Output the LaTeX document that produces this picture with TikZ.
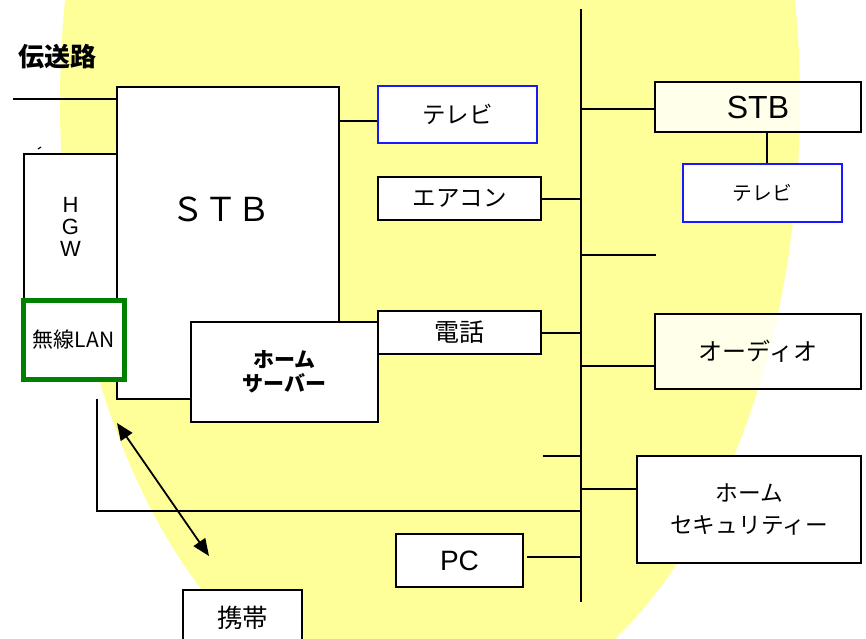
\documentclass[tikz,border=0pt]{standalone}
\usepackage{fontspec}
\setmainfont{Liberation Sans}
\newfontfamily\jp{Noto Sans CJK JP}
\usetikzlibrary{arrows.meta}
\definecolor{bgyellow}{RGB}{255,255,153}
\definecolor{wgreen}{RGB}{0,128,0}
\definecolor{tvblue}{RGB}{25,25,255}
\newcommand{\fs}[2]{\fontsize{#1}{#2}\selectfont}
\begin{document}
\begin{tikzpicture}[x=1pt,y=-1pt,
  box/.style={draw=black, line width=1.8pt, fill=white, inner sep=0pt, rectangle, align=center, font=\jp\fs{23.5}{27}},
  tvbox/.style={box, draw=tvblue},
  glassbox/.style={box, fill opacity=0.8, text opacity=1},
  ln/.style={line width=1.8pt},
  lbl/.style={inner sep=0pt, align=center}]
\clip (0,0) rectangle (866,638);
\fill[bgyellow] (430,102) ellipse [x radius=370pt, y radius=620pt];

% left side
\node[lbl, font=\jp\bfseries\fs{26}{28}] (title) at (57,57) {伝送路};
\node[box, minimum width=222pt, minimum height=312pt] (stbbig) at (228,243) {};
\node[lbl, font=\jp\fs{33}{36}] (stbbiglbl) at (221,209) {ＳＴＢ};
\node[box, minimum width=93pt, minimum height=146pt, font=\fs{22}{22}] (hgw) at (70.5,227) {H\\G\\W};
\node[box, draw=wgreen, line width=5pt, minimum width=101pt, minimum height=79pt, font=\jp\fs{21}{24}] (wlan) at (73.5,339.5) {無線LAN};
\node[box, minimum width=187pt, minimum height=100pt, font=\jp\bfseries\fs{21}{24}] (hs) at (284.5,372) {\raisebox{-2pt}{ホーム}\\\raisebox{-2pt}{サーバー}};
\draw[line width=1.2pt] (38,149) -- (41,147);

% middle column
\node[tvbox, minimum width=159pt, minimum height=57pt] (tv1) at (457.5,114.5) {テレビ};
\node[box, minimum width=163pt, minimum height=43pt] (ac) at (459.5,198.5) {エアコン};
\node[box, minimum width=163pt, minimum height=43pt, font=\jp\fs{25}{28}] (tel) at (459.5,332.5) {電話};
\node[box, minimum width=127pt, minimum height=53pt, font=\fs{28}{30}] (pc) at (459.5,560.5) {PC};
\node[box, minimum width=119pt, minimum height=56pt, font=\jp\fs{25.5}{28}] (mobile) at (242.5,618) {携帯};

% right column
\node[glassbox, minimum width=206pt, minimum height=50pt, font=\fs{32}{34}] (stb2) at (758,107) {STB};
\node[tvbox, minimum width=159pt, minimum height=58pt, font=\jp\fs{19.7}{22}] (tv2) at (762.5,193) {テレビ};
\node[glassbox, minimum width=206pt, minimum height=75pt, font=\jp\fs{24}{27}] (audio) at (758,351.5) {\raisebox{-3pt}{オーディオ}};
\node[box, minimum width=224pt, minimum height=107pt, font=\jp\fs{22.7}{32}] (sec) at (749,509.5) {ホーム\\セキュリティー};

% bus
\coordinate (bustop) at (581,9);
\coordinate (busbot) at (581,602);
\draw[ln] (bustop) -- (busbot);

% connectors
\coordinate (tx) at (13,99);
\draw[ln] (tx) -- (tx -| stbbig.west);
\draw[ln] (stbbig.east |- 0,121) -- (tv1.west |- 0,121);
\draw[ln] (ac.east |- 0,199) -- (bustop |- 0,199);
\draw[ln] (tel.east |- 0,333) -- (bustop |- 0,333);
\draw[ln] (stb2.west |- 0,109) -- (bustop |- 0,109);
\coordinate (stub1) at (656,255);
\draw[ln] (stub1) -- (stub1 -| bustop);
\draw[ln] (audio.west |- 0,366) -- (bustop |- 0,366);
\coordinate (stub2) at (543,456);
\draw[ln] (stub2) -- (stub2 -| bustop);
\draw[ln] (sec.west |- 0,489) -- (bustop |- 0,489);
\draw[ln] ([xshift=3pt]pc.east |- 0,557) -- (bustop |- 0,557);
\draw[ln] (stb2.south -| 767,0) -- (tv2.north -| 767,0);
\coordinate (hgwline) at (97,399);
\draw[ln] (hgwline) |- (bustop |- 0,511);

% wireless arrow
\coordinate (arA) at (117,423);
\coordinate (arB) at (209,556);
\draw[line width=1.8pt, {Triangle[length=17pt,width=14pt]}-{Triangle[length=17pt,width=14pt]}] (arA) -- (arB);
\end{tikzpicture}
\end{document}
